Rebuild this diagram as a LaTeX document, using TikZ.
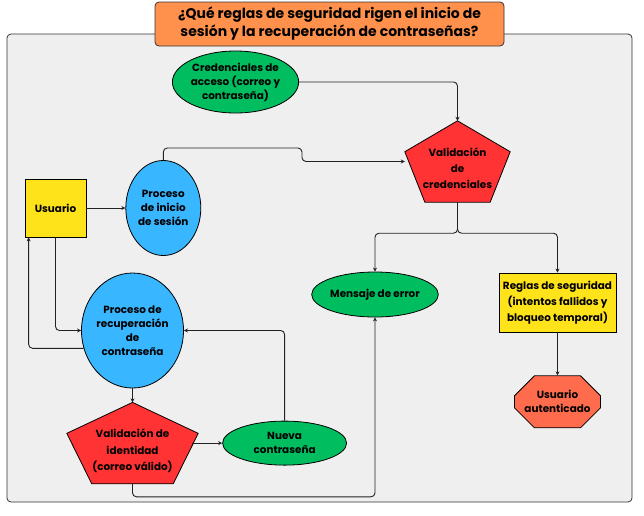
\documentclass[tikz,border=0pt]{standalone}
\usepackage{fontspec}
\setmainfont{Poppins}
\usetikzlibrary{arrows.meta,positioning,shapes.geometric,shapes.misc,calc,backgrounds}

\definecolor{panelgray}{HTML}{EFEFEF}
\definecolor{framegray}{HTML}{333333}
\definecolor{linegray}{HTML}{222222}
\definecolor{titleorange}{HTML}{FF914D}
\definecolor{leafgreen}{HTML}{00BD5F}
\definecolor{skyblue}{HTML}{38B6FF}
\definecolor{alertred}{HTML}{FF3333}
\definecolor{sunyellow}{HTML}{FFE31A}
\definecolor{tomatored}{HTML}{FF6B4D}

\begin{document}
\begin{tikzpicture}[
    x=1pt, y=-1pt,
    font=\fontsize{10.4}{14}\selectfont\bfseries,
    node distance=14pt,
    oval/.style={ellipse, draw, line width=0.8pt, inner sep=0pt, align=center},
    sqbox/.style={rectangle, draw, line width=0.8pt, fill=sunyellow, inner sep=0pt, align=center},
    pentabox/.style={rectangle, inner sep=0pt, align=center},
    octbox/.style={chamfered rectangle, chamfered rectangle sep=10pt, draw, line width=0.8pt, fill=tomatored, inner sep=0pt, align=center},
    titlebox/.style={rectangle, rounded corners=4pt, draw=framegray, line width=0.8pt, fill=titleorange, inner sep=0pt, align=center, font=\fontsize{14}{18}\selectfont\bfseries},
    line/.style={-{Stealth[length=4pt,width=4pt]}, line width=0.9pt, draw=linegray, rounded corners=4pt}
]
    \useasboundingbox (0,0) rectangle (644,515);

    \node[titlebox, minimum width=349pt, minimum height=44pt] (title) at (329.5,24) {¿Qué reglas de seguridad rigen el inicio de\\sesión y la recuperación de contraseñas?};

    \node[sqbox, minimum width=61pt, minimum height=58pt] (usuario) at (55.5,208) {Usuario};
    \node[oval, fill=skyblue, minimum width=75pt, minimum height=95pt, right=39pt of usuario] (inicio) {Proceso\\de inicio\\de sesión};
    \node[oval, fill=leafgreen, minimum width=125pt, minimum height=62pt] (cred) at (235.5,82) {Credenciales de\\acceso (correo y\\contraseña)};
    \node[pentabox, minimum width=105pt, minimum height=81pt,
          label={[align=center, yshift=-7pt, font=\fontsize{10.4}{16}\selectfont\bfseries]center:Validación\\de\\credenciales}] (valcred) at (457.5,161.5) {};

    \node[oval, fill=skyblue, minimum width=99pt, minimum height=115pt] (recup) at (132.5,330.5) {Proceso de\\recuperación\\de\\contraseña};
    \node[pentabox, minimum width=131pt, minimum height=81pt, below=of recup,
          label={[align=center, yshift=-8pt, font=\fontsize{10.4}{16.5}\selectfont\bfseries]center:Validación de\\identidad\\(correo válido)}] (valid) {};
    \node[oval, fill=leafgreen, minimum width=124pt, minimum height=44pt, right=24pt of valid] (nueva) {Nueva\\contraseña};

    \node[oval, fill=leafgreen, minimum width=124pt, minimum height=45pt] (error) at (375,294.5) {Mensaje de error};
    \node[sqbox, minimum width=117pt, minimum height=59pt, font=\fontsize{10.4}{16}\selectfont\bfseries] (reglas) at (557.5,302.5) {Reglas de seguridad\\(intentos fallidos y\\bloqueo temporal)};
    \node[octbox, minimum width=81pt, minimum height=52pt, below=43pt of reglas] (auth) {Usuario\\autenticado};

    % panel and pentagons
    \begin{scope}[on background layer]
        \draw[line width=0.8pt, draw=framegray, fill=panelgray, rounded corners=4pt] (7,34) rectangle (632,502);
        \foreach \p in {valcred,valid}
            \draw[line width=0.8pt, fill=alertred] (\p.north) -- ($(\p.north east)!0.38!(\p.south east)$) -- ($(\p.south west)!0.81!(\p.south east)$) -- ($(\p.south west)!0.19!(\p.south east)$) -- ($(\p.north west)!0.38!(\p.south west)$) -- cycle;
    \end{scope}

    \draw[line] (usuario) -- (inicio);
    \draw[line] (cred.east) -| (valcred.north);
    \draw[line] (inicio.north) |- (302,148) |- (valcred.west);
    \draw[line] (valcred.south) -- ++(0,31) -| (error.north);
    \draw[line] (valcred.south) -- ++(0,31) -| (reglas.north);
    \draw[line] (reglas) -- (auth);
    \draw[line] (usuario.south) |- (recup.west);
    \draw[line] (recup.200) -| ([xshift=4pt]usuario.south west);
    \draw[line] (recup) -- (valid);
    \draw[line] ([xshift=-6pt]valid.east) -- (nueva);
    \draw[line] (nueva.north) |- (recup.east);
    \draw[line] (valid.south) -- ++(0,13) -| (error.south);
\end{tikzpicture}
\end{document}
